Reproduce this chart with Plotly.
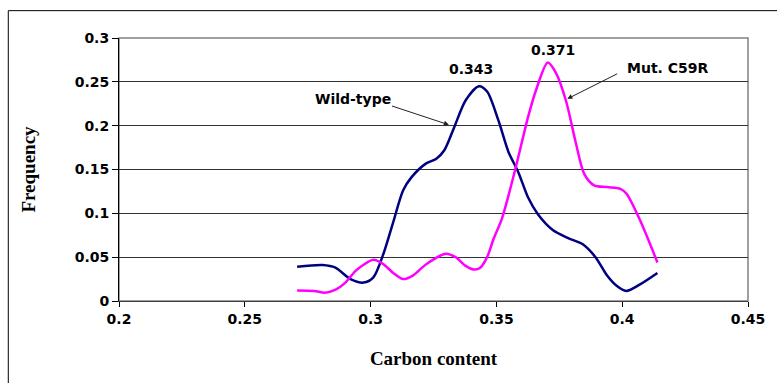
import plotly.graph_objects as go

# Data
wt_x = [0.2708, 0.2809, 0.2860, 0.2920, 0.2972, 0.3011, 0.3050, 0.3090, 0.3129, 0.3162,
        0.3221, 0.3260, 0.3293, 0.3332, 0.3378, 0.3430, 0.3463, 0.3508, 0.3548, 0.3587,
        0.3626, 0.3665, 0.3724, 0.3783, 0.3842, 0.3894, 0.3940, 0.3979, 0.4016, 0.4071, 0.4140]
wt_y = [0.039, 0.041, 0.038, 0.025, 0.021, 0.027, 0.053, 0.090, 0.126, 0.141,
        0.157, 0.162, 0.172, 0.198, 0.229, 0.245, 0.239, 0.206, 0.170, 0.147,
        0.118, 0.099, 0.081, 0.072, 0.065, 0.050, 0.029, 0.017, 0.0115, 0.019, 0.032]

mut_x = [0.2708, 0.2776, 0.2818, 0.2861, 0.2900, 0.2939, 0.2965, 0.3011, 0.3051, 0.3090,
         0.3129, 0.3168, 0.3221, 0.3299, 0.3338, 0.3378, 0.3410, 0.3436, 0.3463, 0.3489,
         0.3522, 0.3574, 0.3626, 0.3658, 0.3704, 0.3737, 0.3776, 0.3816, 0.3849, 0.3888,
         0.3940, 0.3993, 0.4018, 0.4071, 0.4140]
mut_y = [0.012, 0.0115, 0.0095, 0.013, 0.021, 0.034, 0.040, 0.047, 0.042, 0.032,
         0.025, 0.029, 0.042, 0.054, 0.050, 0.040, 0.036, 0.038, 0.050, 0.071,
         0.094, 0.149, 0.210, 0.241, 0.272, 0.260, 0.229, 0.180, 0.145, 0.132,
         0.130, 0.128, 0.122, 0.092, 0.044]

x_ticks = [0.2, 0.25, 0.3, 0.35, 0.4, 0.45]
x_tick_labels = ["0.2", "0.25", "0.3", "0.35", "0.4", "0.45"]
y_ticks = [0, 0.05, 0.1, 0.15, 0.2, 0.25, 0.3]
y_tick_labels = ["0", "0.05", "0.1", "0.15", "0.2", "0.25", "0.3"]

fig = go.Figure()
fig.add_trace(go.Scatter(x=wt_x, y=wt_y, mode="lines", name="Wild-type",
                         line=dict(color="#000080", width=2.5, shape="spline", smoothing=0.8)))
fig.add_trace(go.Scatter(x=mut_x, y=mut_y, mode="lines", name="Mut. C59R",
                         line=dict(color="#FF00FF", width=2.5, shape="spline", smoothing=0.8)))

tick_font = dict(family="DejaVu Sans", size=14, color="black", weight="bold")
title_font = dict(family="Liberation Serif", size=19, color="black")

fig.update_xaxes(range=[0.2, 0.45], tickvals=x_ticks, ticktext=x_tick_labels,
                 showgrid=False, zeroline=False, showline=True, linecolor="#404040", linewidth=1,
                 ticks="outside", ticklen=5, tickcolor="black", tickfont=tick_font,
                 title=dict(text="<b>Carbon content</b>", font=title_font, standoff=25))
fig.update_yaxes(range=[0, 0.3], tickvals=y_ticks, ticktext=y_tick_labels,
                 showgrid=True, gridcolor="#333333", gridwidth=1, zeroline=False,
                 showline=True, linecolor="black", linewidth=1,
                 ticks="outside", ticklen=6, tickcolor="black", tickfont=tick_font,
                 title=dict(text="<b>Frequency</b>", font=title_font, standoff=34))

ann_font = dict(family="DejaVu Sans", size=14, color="black")
fig.update_layout(
    width=777, height=383,
    margin=dict(l=119, r=21, t=38, b=82),
    paper_bgcolor="white", plot_bgcolor="white",
    showlegend=False,
    shapes=[
        dict(type="rect", xref="paper", yref="paper", x0=0, y0=0, x1=1, y1=1,
             line=dict(color="#808080", width=1.5), layer="below"),
        dict(type="rect", xref="paper", yref="paper", x0=-0.176, y0=-0.5, x1=1.2, y1=1.104,
             line=dict(color="black", width=1)),
    ],
    annotations=[
        dict(x=0.3401, y=0.265, text="<b>0.343</b>", showarrow=False, font=ann_font),
        dict(x=0.3723, y=0.2866, text="<b>0.371</b>", showarrow=False, font=ann_font),
        dict(x=0.2930, y=0.2306, text="<b>Wild-type</b>", showarrow=False, font=ann_font),
        dict(x=0.4182, y=0.266, text="<b>Mut. C59R</b>", showarrow=False, font=ann_font),
        dict(x=0.3311, y=0.201, ax=0.3079, ay=0.223, axref="x", ayref="y", text="",
             showarrow=True, arrowhead=2, arrowsize=1, arrowwidth=1, arrowcolor="#222222"),
        dict(x=0.3782, y=0.2306, ax=0.3986, ay=0.260, axref="x", ayref="y", text="",
             showarrow=True, arrowhead=2, arrowsize=1, arrowwidth=1, arrowcolor="#222222"),
    ],
)

fig.write_html("out.html")
